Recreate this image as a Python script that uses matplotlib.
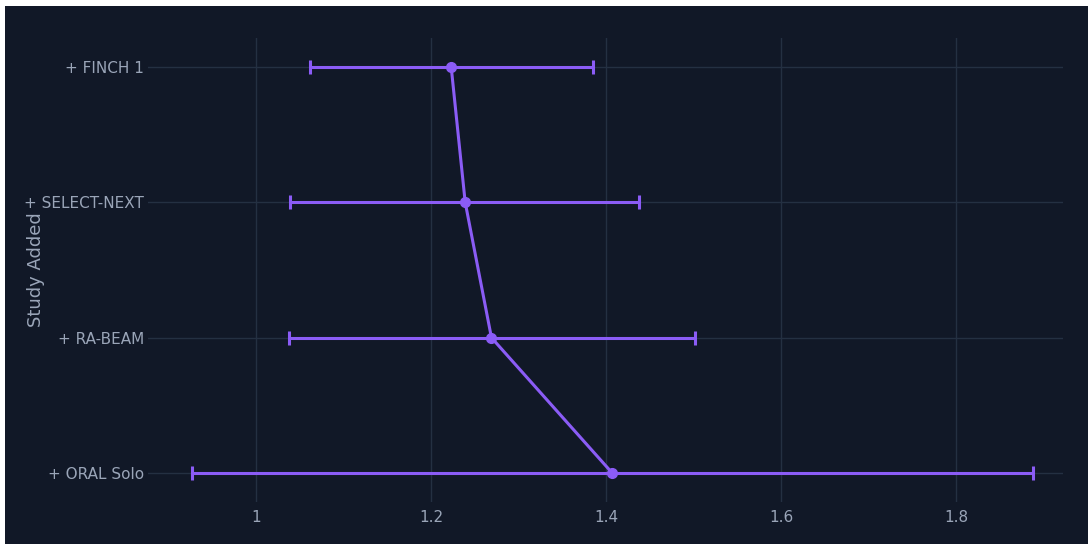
import matplotlib
matplotlib.use("Agg")
from matplotlib import pyplot as plt
from matplotlib.patches import FancyBboxPatch, Rectangle

studies = ["+ ORAL Solo", "+ RA-BEAM", "+ SELECT-NEXT", "+ FINCH 1"]
estimate = [1.407, 1.269, 1.239, 1.223]
ci_low = [0.927, 1.038, 1.039, 1.062]
ci_high = [1.888, 1.502, 1.438, 1.385]
x_ticks = [1, 1.2, 1.4, 1.6, 1.8]
x_tick_labels = ["1", "1.2", "1.4", "1.6", "1.8"]

plt.rcParams['font.family'] = ['DejaVu Sans']

purple = '#8b5cf6'
panel = '#111827'
grid = '#243042'
text_col = '#9aa5b8'

fig = plt.figure(figsize=(10.88, 5.44), dpi=100)
fig.patch.set_facecolor(panel)
# screenshot crop: thin white strip on top and left edges
tf = fig.transFigure
fig.add_artist(Rectangle((0, 0), 5 / 1088, 1, transform=tf,
                         facecolor='white', edgecolor='none', zorder=-6))
fig.add_artist(Rectangle((0, 1 - 6 / 544), 1, 6 / 544, transform=tf,
                         facecolor='white', edgecolor='none', zorder=-6))

ax = fig.add_axes([148 / 1088, 1 - 502 / 544, 915 / 1088, 464 / 544])
ax.set_facecolor(panel)

ys = list(range(len(studies)))
xerr = [[e - lo for e, lo in zip(estimate, ci_low)],
        [hi - e for e, hi in zip(estimate, ci_high)]]
ax.errorbar(estimate, ys, xerr=xerr, color=purple, lw=2.2,
            marker='o', markersize=7, capsize=5, capthick=2.2,
            elinewidth=2.2, zorder=3)

ax.set_xlim(0.8766, 1.922)
ax.set_ylim(-0.214, 3.214)
ax.set_xticks(x_ticks)
ax.set_xticklabels(x_tick_labels)
ax.set_yticks(ys)
ax.set_yticklabels(studies)
ax.grid(True, color=grid, lw=1)
ax.set_axisbelow(True)
for s in ax.spines.values():
    s.set_visible(False)
ax.tick_params(length=0, colors=text_col, labelsize=11)
ax.tick_params(axis='x', pad=6)
ax.tick_params(axis='y', pad=3)

ax.set_ylabel("Study Added", color=text_col, fontsize=13)
ax.yaxis.set_label_coords(-0.113, 0.5)

fig.savefig("out.png", dpi=100, facecolor=fig.get_facecolor())
